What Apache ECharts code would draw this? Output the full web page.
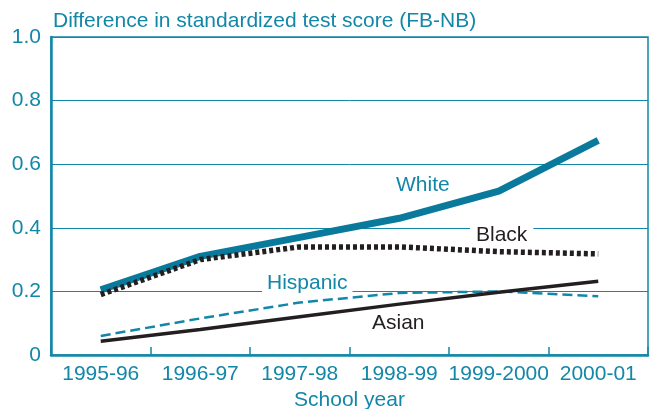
<!DOCTYPE html>
<html lang="en">
<head>
  <meta charset="UTF-8">
  <title>Difference in standardized test score</title>
  <script src="https://cdn.jsdelivr.net/npm/echarts@6/dist/echarts.min.js"></script>
  <style>
    html,body{margin:0;padding:0;background:#fff;}
    #main{width:652px;height:409px;}
  </style>
</head>
<body>
  <div id="main"></div>
  <script>
    // 数据
    var years = ['1995-96', '1996-97', '1997-98', '1998-99', '1999-2000', '2000-01'];
    var white = [0.205, 0.31, 0.37, 0.43, 0.515, 0.675];
    var black = [0.19, 0.30, 0.34, 0.34, 0.325, 0.318];
    var hispanic = [0.06, 0.115, 0.165, 0.195, 0.20, 0.185];
    var asian = [0.043, 0.08, 0.12, 0.16, 0.197, 0.232];

    var teal = '#1287a8';
    var font = "'Liberation Sans', Arial, sans-serif";
    var fs = 21;

    var myChart = echarts.init(document.getElementById('main'));
    var option = {
      animation: false,
      title: {
        text: 'Difference in standardized test score (FB-NB)',
        left: 48, top: 6,
        textStyle: {color: teal, fontSize: fs, fontWeight: 'normal', fontFamily: font}
      },
      grid: {
        left: 51, right: 4, top: 37, bottom: 54,
        outerBoundsMode: 'none',
        show: true, borderColor: teal, borderWidth: 1.5
      },
      xAxis: {
        type: 'category',
        data: years,
        name: 'School year',
        nameLocation: 'middle',
        nameGap: 29,
        nameTextStyle: {color: teal, fontSize: fs, fontFamily: font},
        axisLine: {lineStyle: {color: teal, width: 2.5}},
        axisTick: {show: true, inside: true, length: 8, lineStyle: {color: teal, width: 1.5}},
        axisLabel: {color: teal, fontSize: fs, fontFamily: font, margin: 9, interval: 0}
      },
      yAxis: {
        type: 'value',
        min: 0, max: 1, interval: 0.2,
        axisLine: {show: true, lineStyle: {color: teal, width: 2.5}},
        axisTick: {show: false},
        splitLine: {lineStyle: {color: teal, width: 1}},
        axisLabel: {
          color: teal, fontSize: fs, fontFamily: font, margin: 10,
          padding: [5, 0, 0, 0],
          formatter: function(v){ return v === 0 ? '0' : v.toFixed(1); }
        }
      },
      series: [{
        name: 'Hispanic', type: 'line', data: hispanic, symbol: 'none', z: 3,
        lineStyle: {color: teal, width: 2.5, type: [10, 5]}
      }, {
        name: 'Asian', type: 'line', data: asian, symbol: 'none', z: 4,
        lineStyle: {color: '#231f20', width: 3.5}
      }, {
        name: 'White', type: 'line', data: white, symbol: 'none', z: 5,
        lineStyle: {color: '#0a7a9c', width: 7}
      }, {
        name: 'Black', type: 'line', data: black, symbol: 'none', z: 6,
        lineStyle: {color: '#231f20', width: 5.5, type: [4, 3], cap: 'butt'}
      }],
      graphic: {
        elements: [
          {type: 'text', x: 396, y: 185, z: 1,
            style: {text: 'White', fill: teal, font: fs + 'px ' + font, verticalAlign: 'middle'}},
          {type: 'text', x: 470, y: 235, z: 1,
            style: {text: 'Black', fill: '#231f20', font: fs + 'px ' + font, verticalAlign: 'middle', backgroundColor: '#fff', padding: [0, 6, 0, 6]}},
          {type: 'text', x: 262, y: 283, z: 1,
            style: {text: 'Hispanic', fill: teal, font: fs + 'px ' + font, verticalAlign: 'middle', backgroundColor: '#fff', padding: [0, 5, 0, 5]}},
          {type: 'text', x: 372, y: 323, z: 1,
            style: {text: 'Asian', fill: '#231f20', font: fs + 'px ' + font, verticalAlign: 'middle'}}
        ]
      }
    };
    myChart.setOption(option);
  </script>
</body>
</html>
